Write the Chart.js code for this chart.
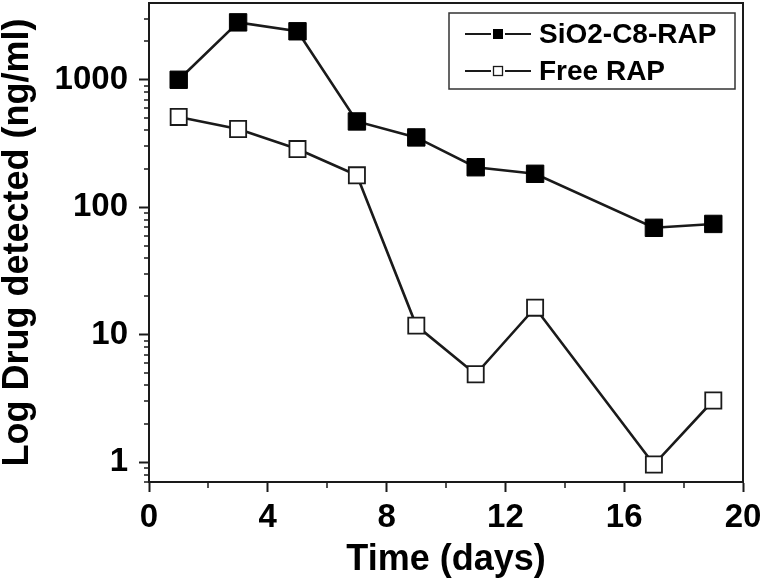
<!DOCTYPE html>
<html>
<head>
<meta charset="utf-8">
<script src="https://cdn.jsdelivr.net/npm/chart.js@4.4.1/dist/chart.umd.min.js"></script>
<style>
    body { margin: 0; background: #fff; }
    #wrap { width: 763px; height: 580px; position: relative; }
</style>
</head>
<body>
<div id="wrap"><canvas id="plotCanvas"></canvas></div>
<script>
// values
var days = [1, 3, 5, 7, 9, 11, 13, 17, 19];
var sio2Rap = [1000, 2820, 2400, 471, 353, 206, 183, 69, 74];
var freeRap = [511, 411, 286, 178, 11.8, 4.9, 16.3, 0.96, 3.05];

var seriesNames = ['SiO2-C8-RAP', 'Free RAP'];
var xMajorTicks = [0, 4, 8, 12, 16, 20];
var xMinorTicks = [2, 6, 10, 14, 18];
var yMajorTicks = [1, 10, 100, 1000];
var yMinorTicks = [0.7, 0.8, 0.9, 2, 3, 4, 5, 6, 7, 8, 9, 20, 30, 40, 50, 60, 70, 80, 90,
                   200, 300, 400, 500, 600, 700, 800, 900, 2000, 3000];

var ink = '#1a1a1a';
var fontName = '"Liberation Sans", Arial, sans-serif';

function toPoints(xs, ys) {
    return xs.map((x, i) => ({ x: x, y: ys[i] }));
}

// frame round the plot area + short minor ticks
var frameAndMinor = {
    id: 'frameAndMinor',
    afterDraw: function(chart) {
        var ctx = chart.ctx;
        var a = chart.chartArea;
        var xs = chart.scales.x, ys = chart.scales.y;
        ctx.save();
        ctx.strokeStyle = ink;
        ctx.lineWidth = 2;
        ctx.strokeRect(a.left, a.top, a.right - a.left, a.bottom - a.top);
        ctx.beginPath();
        xMinorTicks.forEach(function(v) {
            var px = Math.round(xs.getPixelForValue(v));
            ctx.moveTo(px, a.bottom);
            ctx.lineTo(px, a.bottom + 6);
        });
        yMinorTicks.forEach(function(v) {
            var py = Math.round(ys.getPixelForValue(v));
            ctx.moveTo(a.left, py);
            ctx.lineTo(a.left - 5, py);
        });
        ctx.lineWidth = 1.5;
        ctx.stroke();
        ctx.restore();
    }
};

// legend box in the top right corner
var boxLegend = {
    id: 'boxLegend',
    afterDraw: function(chart) {
        var ctx = chart.ctx;
        ctx.save();
        ctx.fillStyle = '#fff';
        ctx.fillRect(449, 13, 286, 76);
        ctx.strokeStyle = '#333';
        ctx.lineWidth = 1.5;
        ctx.strokeRect(449, 13, 286, 76);
        var rows = [34, 71];
        rows.forEach(function(y, i) {
            ctx.strokeStyle = ink;
            ctx.lineWidth = 2.2;
            ctx.beginPath();
            ctx.moveTo(465, y); ctx.lineTo(491, y);
            ctx.moveTo(505, y); ctx.lineTo(531, y);
            ctx.stroke();
            if (i === 0) {
                ctx.fillStyle = '#000';
                ctx.fillRect(493, y - 5, 10, 10);
            } else {
                ctx.fillStyle = '#fff';
                ctx.lineWidth = 1.3;
                ctx.fillRect(493.5, y - 4.5, 9, 9);
                ctx.strokeRect(493.5, y - 4.5, 9, 9);
            }
            ctx.fillStyle = '#000';
            ctx.font = 'bold 28px ' + fontName;
            ctx.textBaseline = 'middle';
            ctx.textAlign = 'left';
            ctx.fillText(seriesNames[i], 539, y + 1);
        });
        ctx.restore();
    }
};

var ctx = document.getElementById('plotCanvas').getContext('2d');

new Chart(ctx, {
    type: 'scatter',
    data: {
        datasets: [{
            label: seriesNames[0],
            data: toPoints(days, sio2Rap),
            showLine: true,
            borderColor: ink,
            borderWidth: 2.6,
            pointStyle: 'rect',
            pointRadius: 12.3,
            pointHoverRadius: 12.3,
            pointBackgroundColor: '#000',
            pointBorderColor: '#000',
            pointBorderWidth: 1
        }, {
            label: seriesNames[1],
            data: toPoints(days, freeRap),
            showLine: true,
            borderColor: ink,
            borderWidth: 2.6,
            pointStyle: 'rect',
            pointRadius: 11.4,
            pointHoverRadius: 11.4,
            pointBackgroundColor: '#fff',
            pointBorderColor: ink,
            pointBorderWidth: 1.8
        }]
    },
    options: {
        responsive: true,
        maintainAspectRatio: false,
        animation: false,
        devicePixelRatio: 1,
        layout: { autoPadding: false, padding: { left: 0, top: 3, right: 20, bottom: 0 } },
        plugins: {
            legend: { display: false },
            tooltip: { enabled: false }
        },
        scales: {
            x: {
                type: 'linear',
                position: 'bottom',
                min: 0,
                max: 20,
                afterBuildTicks: function(scale) {
                    scale.ticks = xMajorTicks.map(v => ({ value: v }));
                },
                afterFit: function(scale) {
                    scale.height = 98;
                    scale.paddingLeft = 0;
                    scale.paddingRight = 0;
                },
                ticks: {
                    color: '#000',
                    padding: 6,
                    maxRotation: 0,
                    font: { family: fontName, size: 33, weight: 'bold' }
                },
                grid: {
                    drawOnChartArea: false,
                    tickLength: 10,
                    tickWidth: 2,
                    tickColor: ink
                },
                border: { color: ink, width: 2 },
                title: {
                    display: true,
                    text: 'Time (days)',
                    color: '#000',
                    padding: { top: 0, bottom: 2 },
                    font: { family: fontName, size: 36, weight: 'bold', lineHeight: 1 }
                }
            },
            y: {
                type: 'logarithmic',
                position: 'left',
                min: 0.7,
                max: 4000,
                afterBuildTicks: function(scale) {
                    scale.ticks = yMajorTicks.map(v => ({ value: v }));
                },
                afterFit: function(scale) {
                    scale.width = 149;
                    scale.paddingTop = 0;
                    scale.paddingBottom = 0;
                },
                ticks: {
                    color: '#000',
                    padding: 11,
                    callback: function(v) { return String(v); },
                    font: { family: fontName, size: 33, weight: 'bold' }
                },
                grid: {
                    drawOnChartArea: false,
                    tickLength: 10,
                    tickWidth: 2,
                    tickColor: ink
                },
                border: { color: ink, width: 2 },
                title: {
                    display: true,
                    text: 'Log Drug detected (ng/ml)',
                    color: '#000',
                    padding: { top: 0, bottom: 0 },
                    font: { family: fontName, size: 36, weight: 'bold', lineHeight: 1 }
                }
            }
        }
    },
    plugins: [frameAndMinor, boxLegend]
});
</script>
</body>
</html>
